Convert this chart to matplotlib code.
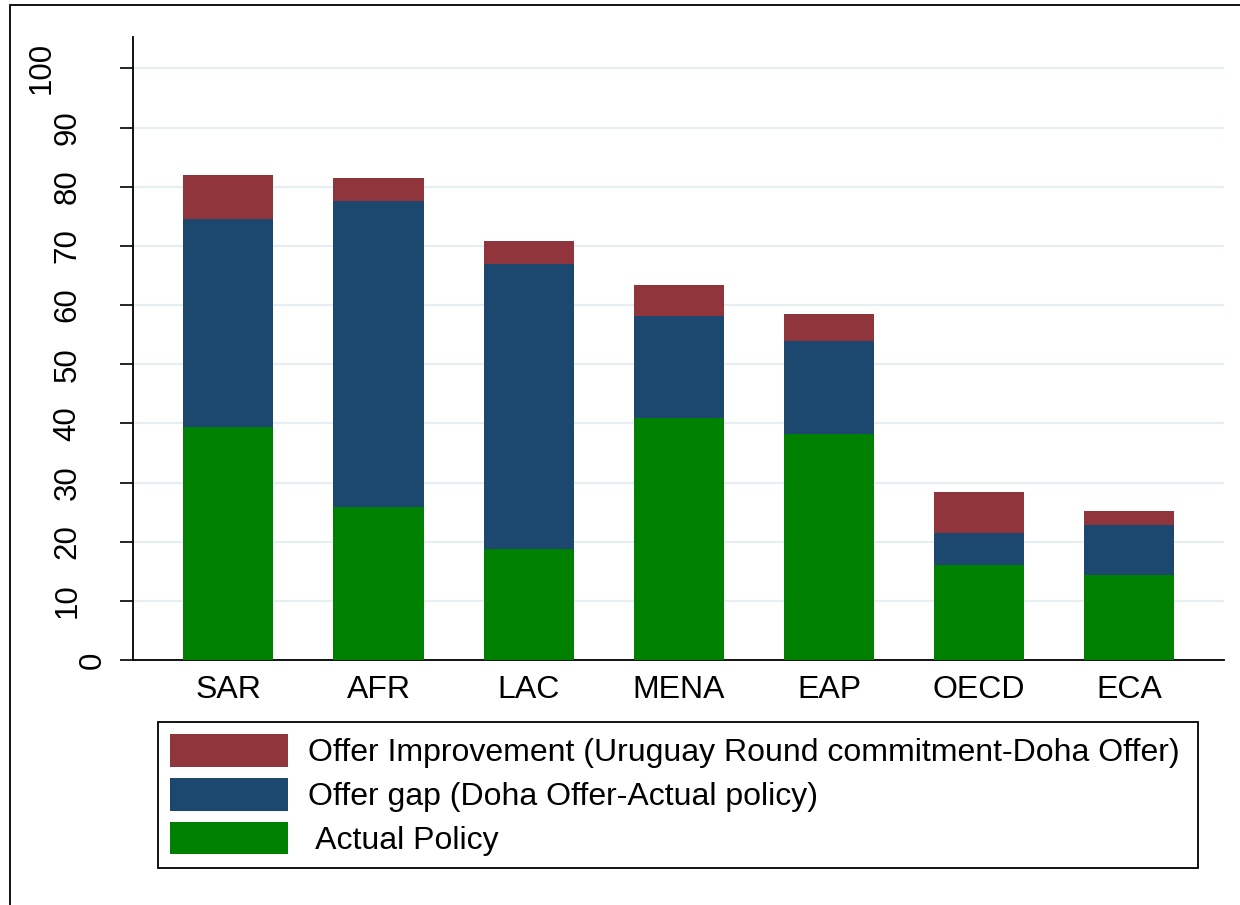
import numpy as np
import matplotlib
matplotlib.use("Agg")
import matplotlib.pyplot as plt
import matplotlib.transforms as mtransforms
from matplotlib.patches import Rectangle

plt.rcParams['font.family'] = ['Liberation Sans', 'DejaVu Sans']

regions = ['SAR', 'AFR', 'LAC', 'MENA', 'EAP', 'OECD', 'ECA']
actual_policy = [39.3, 25.9, 18.8, 40.9, 38.2, 16.1, 14.3]
offer_gap = [35.2, 51.6, 48.2, 17.3, 15.8, 5.4, 8.6]
offer_improvement = [7.4, 3.9, 3.9, 5.1, 4.4, 6.9, 2.3]

labels = ['Offer Improvement (Uruguay Round commitment-Doha Offer)',
          'Offer gap (Doha Offer-Actual policy)',
          ' Actual Policy']
colors = ['#90353B', '#1C476F', '#008000']

fig = plt.figure(figsize=(12.4, 9.05), dpi=100)
ax = fig.add_axes([133 / 1240, 1 - 660 / 905, (1224 - 133) / 1240, (660 - 37) / 905])

x = np.arange(len(regions))
ap = np.array(actual_policy)
gap = np.array(offer_gap)
imp = np.array(offer_improvement)

b_green = ax.bar(x, ap, width=0.6, color=colors[2], zorder=3)
b_blue = ax.bar(x, gap, width=0.6, bottom=ap, color=colors[1], zorder=3)
b_red = ax.bar(x, imp, width=0.6, bottom=ap + gap, color=colors[0], zorder=3)

ax.set_xlim(-0.635, 6.63)
ax.set_ylim(0, 105.3)
ax.set_xticks(x)
ax.set_xticklabels(regions, fontsize=23)
ax.tick_params(axis='x', length=0, pad=11)
ax.set_yticks(range(0, 101, 10))
ax.set_yticklabels([str(v) for v in range(0, 101, 10)], rotation=90,
                   va='center', fontsize=22.5)
ax.tick_params(axis='y', length=9.5, width=1.2, pad=8.5)

# Stata-style shift of rotated labels: longer labels sit further left
for lab in ax.get_yticklabels():
    n = len(lab.get_text())
    off = mtransforms.ScaledTranslation(-(n - 1) * 25.5 / 100, 0, fig.dpi_scale_trans)
    lab.set_transform(lab.get_transform() + off)

ax.grid(axis='y', color='#E6EEF1', linewidth=1.6, zorder=0)
ax.set_axisbelow(True)
for s in ['top', 'right']:
    ax.spines[s].set_visible(False)
for s in ['left', 'bottom']:
    ax.spines[s].set_linewidth(1.3)

leg = fig.legend([b_red, b_blue, b_green], labels,
                 loc='upper left',
                 bbox_to_anchor=(158 / 1240, 1 - 868 / 905, 1040 / 1240, 146 / 905),
                 mode='expand', fontsize=23, fancybox=False, framealpha=1,
                 edgecolor='black', handlelength=3.7, handleheight=1.2,
                 handletextpad=0.6, borderpad=0.38, labelspacing=0.3,
                 borderaxespad=0)
leg.get_frame().set_linewidth(1.3)

# outer frame of the graph region
fig.patches.append(Rectangle((10 / 1240, -0.05), 1.2, 1 - 5 / 905 + 0.05,
                             transform=fig.transFigure, fill=False,
                             edgecolor='black', linewidth=1.3))

fig.savefig('out.png', dpi=100)
